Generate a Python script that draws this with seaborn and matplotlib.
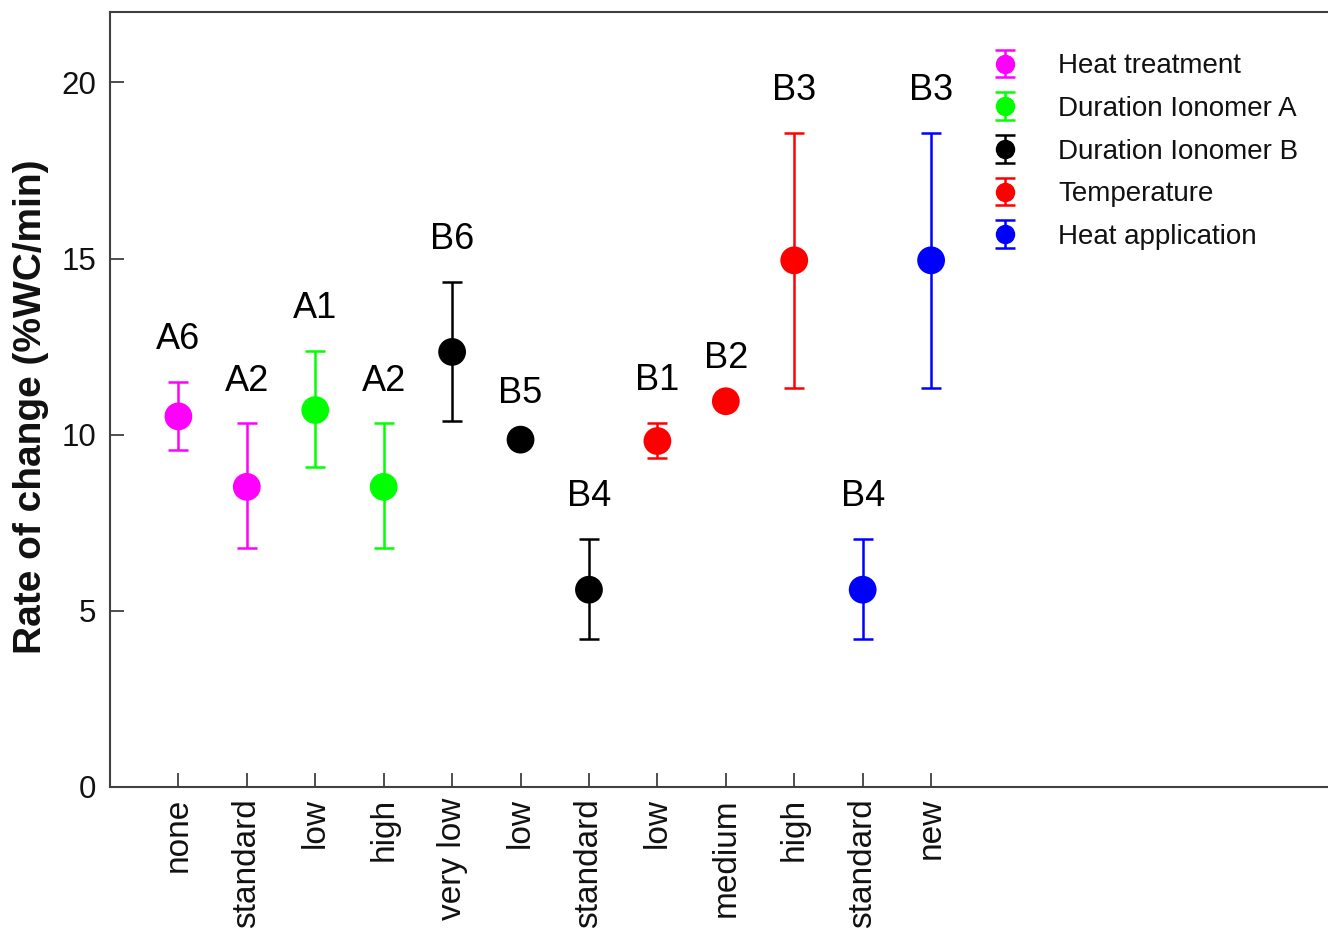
"""
Rate of change per treatment level, grouped by factor
"""

import numpy as np
import pandas as pd
import matplotlib
matplotlib.use("Agg")
import matplotlib.pyplot as plt
import seaborn as sns

# data
levels = ["none", "standard", "low", "high", "very low", "low",
          "standard", "low", "medium", "high", "standard", "new"]
groups = ["Heat treatment", "Heat treatment",
          "Duration Ionomer A", "Duration Ionomer A",
          "Duration Ionomer B", "Duration Ionomer B", "Duration Ionomer B",
          "Temperature", "Temperature", "Temperature",
          "Heat application", "Heat application"]
codes = ["A6", "A2", "A1", "A2", "B6", "B5", "B4", "B1", "B2", "B3", "B4", "B3"]
rate = [10.52, 8.52, 10.70, 8.52, 12.35, 9.86, 5.60, 9.82, 10.95, 14.95, 5.60, 14.95]
err_low = [9.57, 6.77, 9.07, 6.77, 10.40, 9.76, 4.20, 9.33, 10.95, 11.32, 4.20, 11.32]
err_high = [11.50, 10.32, 12.38, 10.32, 14.33, 9.96, 7.04, 10.33, 10.95, 18.57, 7.04, 18.57]

group_order = ["Heat treatment", "Duration Ionomer A", "Duration Ionomer B",
               "Temperature", "Heat application"]
group_colors = ["#ff00ff", "#00ff00", "#000000", "#ff0000", "#0000ff"]

df = pd.DataFrame({
    "pos": np.arange(len(levels)),
    "level": levels,
    "group": groups,
    "code": codes,
    "rate": rate,
    "lo": err_low,
    "hi": err_high,
})

sns.set_style("white")
plt.rcParams["font.family"] = ["Liberation Sans", "DejaVu Sans"]
plt.rcParams["xtick.direction"] = "in"
plt.rcParams["ytick.direction"] = "in"
plt.rcParams["text.color"] = "#111111"
plt.rcParams["axes.labelcolor"] = "#111111"
plt.rcParams["xtick.labelcolor"] = "#111111"
plt.rcParams["ytick.labelcolor"] = "#111111"

fig = plt.figure(figsize=(13.28, 9.3), dpi=100)
ax = fig.add_axes([0.0828, 0.1538, 0.9172, 0.8333])

palette = dict(zip(group_order, group_colors))

# error bars with markers, one call per group (gives the legend handles)
handles = []
for g in group_order:
    sub = df[df["group"] == g]
    yerr = np.vstack([sub["rate"] - sub["lo"], sub["hi"] - sub["rate"]])
    h = ax.errorbar(sub["pos"], sub["rate"], yerr=yerr, fmt="o",
                    color=palette[g], markersize=13,
                    elinewidth=1.8, capsize=7, capthick=1.8, zorder=2, label=g)
    handles.append(h)

sns.scatterplot(data=df, x="pos", y="rate", hue="group", hue_order=group_order,
                palette=palette, s=400, edgecolor="none", legend=False,
                zorder=3, ax=ax)

# code labels above the error bars
for _, row in df.iterrows():
    ax.text(row["pos"], row["hi"] + 1.2, row["code"], ha="center", va="center",
            fontsize=26, color="black")

ax.legend(handles, group_order, loc="upper left",
          bbox_to_anchor=(0.703, 0.979), frameon=False, fontsize=20,
          handlelength=1.0, handletextpad=1.4, labelspacing=0.6)

ax.set_xlim(-1, 16.8)
ax.set_ylim(0, 22)
ax.set_yticks([0, 5, 10, 15, 20])
ax.set_xticks(df["pos"])
ax.set_xticklabels(levels, rotation=90, fontsize=24)
ax.tick_params(axis="y", left=True, labelsize=22.5, length=10, width=1.3,
               color="#404040", pad=10)
ax.tick_params(axis="x", bottom=True, length=10, width=1.3, color="#404040", pad=8)
ax.set_xlabel("")
ax.set_ylabel("Rate of change (%WC/min)", fontsize=28, fontweight="bold")
ax.yaxis.set_label_coords(-0.050, 0.49)

for side in ["left", "bottom", "top"]:
    ax.spines[side].set_color("#404040")
    ax.spines[side].set_linewidth(1.5)
ax.spines["right"].set_visible(False)

fig.savefig("out.png", dpi=100)
plt.close(fig)
